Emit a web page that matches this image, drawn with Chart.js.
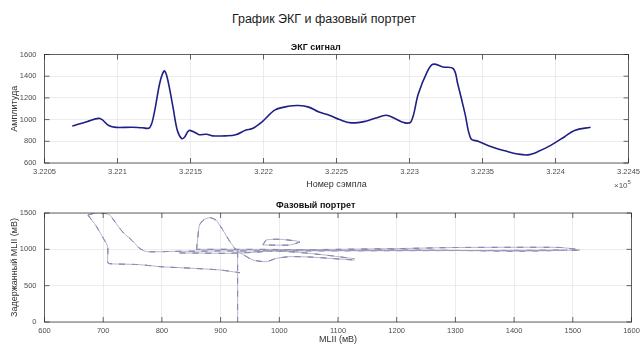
<!DOCTYPE html>
<html>
<head>
<meta charset="utf-8">
<script src="https://cdn.jsdelivr.net/npm/chart.js@4.4.0/dist/chart.umd.min.js"></script>
<style>
  body { margin:0; background:#fff; width:644px; height:347px; position:relative; overflow:hidden; font-family:"Liberation Sans", Arial, sans-serif; }
  canvas { position:absolute; left:0; }
  #mainTitle { position:absolute; top:12px; left:0; width:648px; text-align:center; font-size:12.5px; color:#1a1a1a; }
  #expo { position:absolute; left:614px; top:179px; font-size:8px; color:#555; }
  #expo sup { font-size:6px; }
</style>
</head>
<body>
<div id="mainTitle">График ЭКГ и фазовый портрет</div>
<canvas id="ecgCanvas" width="644" height="200" style="top:0"></canvas>
<canvas id="phaseCanvas" width="644" height="152" style="top:195px"></canvas>
<div id="expo">×10<sup>5</sup></div>
<script>
// ECG signal (sample number, amplitude)
const ecgX = [322069,322079,322088,322094,322099,322110,322117,322122,322125,322129,322132,322134,322138,322141,322144,322146,322149,322154,322156,322161,322165,322174,322181,322188,322192,322199,322208,322218,322224,322231,322238,322245,322252,322260,322270,322277,322284,322290,322296,322301,322306,322312,322316,322323,322330,322333,322338,322342,322347,322356,322366,322374,322381,322388,322397,322406,322413,322424];
const ecgY = [941,981,1010,945,928,930,925,925,1050,1340,1448,1390,1115,900,825,840,900,875,860,865,850,850,860,905,915,980,1090,1125,1130,1115,1070,1040,1000,970,985,1015,1040,1010,973,978,1235,1437,1510,1485,1470,1330,1055,825,800,750,710,683,675,705,765,840,900,930];

// phase portrait: MLII vs delayed MLII, null = break in the line
const phaseX = [674,684,694,703,711,720,728,736,745,754,762,774,820,860,900,1000,1200,1400,1490, null,
  674,688,700,706,708,708,716,760,800,850,899,933, null,
  859,861,864,872,882,892,902,916,927,940,955,978,995,1018,1050,1086,1128, null,
  929,929, null,
  830,870,910,960,1000,1100,1200,1300,1400,1480,1512,1480,1400,1300,1200,1100,1000,930,860, null,
  972,978,1001,1035,1018,972, null,
  972,1030,1080,1128];
const phaseY = [1472,1495,1505,1495,1472,1380,1289,1215,1152,1080,1014,968,972,975,978,978,982,985,990, null,
  1472,1320,1156,1070,1018,812,800,790,760,740,716,678, null,
  990,1150,1334,1410,1436,1403,1289,1105,990,920,853,830,876,899,895,876,853, null,
  967,0, null,
  950,948,945,960,990,1000,1010,1025,1028,1025,990,985,975,985,990,985,998,1000,1000, null,
  1060,1128,1138,1105,1060,1060, null,
  990,960,920,870];

const ecgTicksY = [600, 1600, 200];
const phaseTicksX = [600, 1600, 100];
const phaseTicksY = [0, 1500, 500];

const axisFont = { family: '"Liberation Sans", Arial, sans-serif', size: 7.5 };
const labelFont = { family: '"Liberation Sans", Arial, sans-serif', size: 9 };
const tickColor = '#4d4d4d';
const gridColor = '#e4e4e4';

// MATLAB style box with inward ticks
const boxTicks = {
  id: 'boxTicks',
  afterDraw(chart) {
    const { ctx, chartArea: a, scales } = chart;
    const len = 5;
    ctx.save();
    ctx.strokeStyle = '#262626';
    ctx.lineWidth = 0.7;
    ctx.strokeRect(a.left, a.top, a.right - a.left, a.bottom - a.top);
    ctx.beginPath();
    scales.x.ticks.forEach(t => {
      const px = scales.x.getPixelForValue(t.value);
      ctx.moveTo(px, a.bottom); ctx.lineTo(px, a.bottom - len);
      ctx.moveTo(px, a.top); ctx.lineTo(px, a.top + len);
    });
    scales.y.ticks.forEach(t => {
      const py = scales.y.getPixelForValue(t.value);
      ctx.moveTo(a.left, py); ctx.lineTo(a.left + len, py);
      ctx.moveTo(a.right, py); ctx.lineTo(a.right - len, py);
    });
    ctx.stroke();
    ctx.restore();
  }
};

// a null y breaks the line; keep the previous x so the scale stays happy
function toPoints(xs, ys) {
  let lastX = xs[0];
  return xs.map((x, i) => {
    if (x === null) return { x: lastX, y: null };
    lastX = x;
    return { x: x, y: ys[i] };
  });
}

const plain = v => String(v);

new Chart(document.getElementById('ecgCanvas').getContext('2d'), {
  type: 'line',
  data: {
    datasets: [{
      data: toPoints(ecgX, ecgY),
      borderColor: '#1f1f85',
      borderWidth: 1.6,
      pointRadius: 0,
      tension: 0.35
    }]
  },
  options: {
    responsive: false,
    animation: false,
    layout: { padding: { left: 0, right: 12.5, top: 0, bottom: 0 } },
    plugins: {
      legend: { display: false },
      tooltip: { enabled: false },
      title: {
        display: true,
        text: 'ЭКГ сигнал',
        color: '#111',
        font: { family: labelFont.family, size: 9, weight: 'bold' },
        padding: { top: 42.3, bottom: 1.4 }
      }
    },
    scales: {
      x: {
        type: 'linear',
        min: 322050, max: 322450,
        ticks: {
          stepSize: 50, padding: 4, color: tickColor, font: axisFont, maxRotation: 0,
          callback: v => parseFloat((v / 1e5).toFixed(4)).toString()
        },
        grid: { color: gridColor, lineWidth: 0.7, drawTicks: false },
        border: { display: false },
        title: { display: true, text: 'Номер сэмпла', color: '#333', font: labelFont, padding: { top: 0, bottom: 9.6 } },
        afterFit: s => { s.height = 37; }
      },
      y: {
        min: ecgTicksY[0], max: ecgTicksY[1],
        ticks: { stepSize: ecgTicksY[2], padding: 8, color: tickColor, font: axisFont, callback: plain },
        grid: { color: gridColor, lineWidth: 0.7, drawTicks: false },
        border: { display: false },
        title: { display: true, text: 'Амплитуда', color: '#333', font: labelFont, padding: { top: 9, bottom: 0 } },
        afterFit: s => { s.width = 44.5; }
      }
    }
  },
  plugins: [boxTicks]
});

const phasePts = toPoints(phaseX, phaseY);

new Chart(document.getElementById('phaseCanvas').getContext('2d'), {
  type: 'line',
  data: {
    datasets: [{
      data: phasePts,
      borderColor: '#a3a3ba',
      borderWidth: 0.8,
      pointRadius: 0,
      tension: 0.2,
      spanGaps: false
    }, {
      data: phasePts,
      borderColor: '#2b2b8c',
      borderWidth: 0.9,
      borderDash: [6, 7],
      pointRadius: 0,
      tension: 0.2,
      spanGaps: false
    }]
  },
  options: {
    responsive: false,
    animation: false,
    layout: { padding: { left: 0, right: 12.5, top: 0, bottom: 0 } },
    plugins: {
      legend: { display: false },
      tooltip: { enabled: false },
      title: {
        display: true,
        text: 'Фазовый портрет',
        color: '#111',
        font: { family: labelFont.family, size: 9, weight: 'bold' },
        padding: { top: 5.3, bottom: 1.9 }
      }
    },
    scales: {
      x: {
        type: 'linear',
        min: phaseTicksX[0], max: phaseTicksX[1],
        ticks: { stepSize: phaseTicksX[2], padding: 4, color: tickColor, font: axisFont, maxRotation: 0, callback: plain },
        grid: { color: gridColor, lineWidth: 0.7, drawTicks: false },
        border: { display: false },
        title: { display: true, text: 'MLII (мВ)', color: '#333', font: labelFont, padding: { top: 0, bottom: 2.1 } },
        afterFit: s => { s.height = 25; }
      },
      y: {
        min: phaseTicksY[0], max: phaseTicksY[1],
        ticks: { stepSize: phaseTicksY[2], padding: 8, color: tickColor, font: axisFont, callback: plain },
        grid: { color: gridColor, lineWidth: 0.7, drawTicks: false },
        border: { display: false },
        title: { display: true, text: 'Задержанный MLII (мВ)', color: '#333', font: labelFont, padding: { top: 9, bottom: 0 } },
        afterFit: s => { s.width = 44.5; }
      }
    }
  },
  plugins: [boxTicks]
});
</script>
</body>
</html>
